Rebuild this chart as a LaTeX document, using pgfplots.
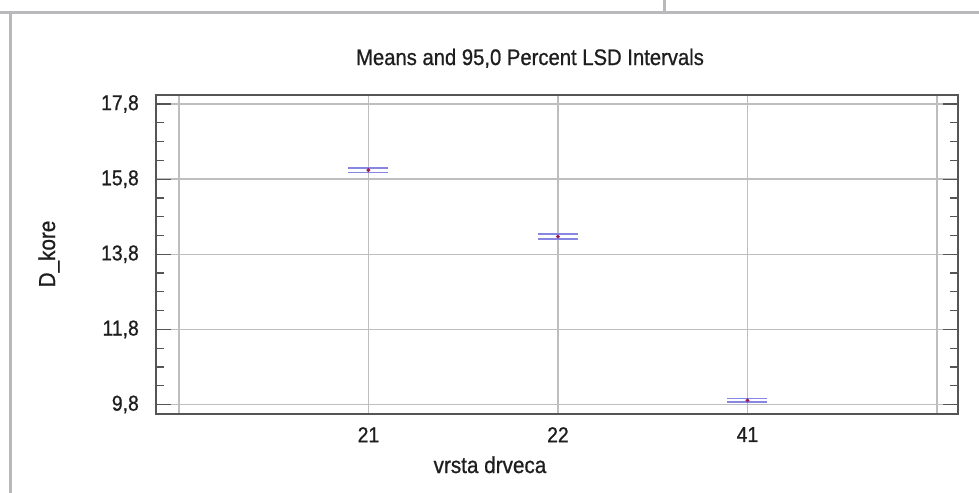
\documentclass[border=0pt]{standalone}
\usepackage{pgfplots}
\pgfplotsset{compat=1.18}
\usepackage{fontspec}
\setmainfont{Liberation Sans}[FakeStretch=0.9, FakeBold=0.8]
\definecolor{framegray}{RGB}{185,185,188}
\definecolor{gridgray}{RGB}{190,190,190}
\definecolor{axisgray}{RGB}{85,85,85}
\definecolor{barblue}{RGB}{135,135,225}
\definecolor{dotred}{RGB}{150,30,90}
\definecolor{txt}{RGB}{30,30,30}
\begin{document}
\begin{tikzpicture}
\path[use as bounding box] (0bp,0bp) rectangle (979bp,-493bp);
\fill[white] (0bp,0bp) rectangle (979bp,-493bp);
% page decoration
\draw[framegray, line width=3bp] (0bp,-12.5bp) -- (979bp,-12.5bp);
\draw[framegray, line width=3bp] (664bp,0bp) -- (664bp,-12.5bp);
\draw[framegray, line width=3bp] (10bp,-11bp) -- (10bp,-493bp);
\begin{axis}[
  at={(156bp,-414bp)}, anchor=south west,
  scale only axis, width=802bp, height=319bp,
  xmin=-0.121, xmax=4.111,
  ymin=9.547, ymax=18.04,
  xtick={0,1,2,3,4},
  xticklabels={,21,22,41,},
  ytick={9.8,11.8,13.8,15.8,17.8},
  yticklabels={{9,8},{11,8},{13,8},{15,8},{17,8}},
  minor y tick num=3,
  tick align=inside,
  major tick length=15bp, minor tick length=8bp,
  xtick style={draw=none},
  ytick style={axisgray, line width=1.2bp},
  grid=major,
  major grid style={gridgray, line width=1.4bp},
  axis line style={axisgray, line width=1.8bp},
  tick label style={font=\fontsize{21.5bp}{24bp}\selectfont, text=txt},
  yticklabel style={inner sep=0pt, anchor=east, xshift=-17bp},
  xticklabel style={inner sep=0pt, anchor=north, yshift=-13bp},
  /pgf/number format/assume math mode=true,
  clip=false,
]
% upper LSD limits
\addplot[only marks, mark=-, mark size=20bp, mark options={barblue, line width=1.6bp}]
coordinates {(1,16.10) (2,14.335) (3,9.955)};
% lower LSD limits
\addplot[only marks, mark=-, mark size=20bp, mark options={barblue, line width=1.6bp}]
coordinates {(1,15.98) (2,14.205) (3,9.865)};
% means
\addplot[only marks, mark=*, mark size=1.8bp, mark options={fill=dotred, draw=dotred}]
coordinates {(1,16.04) (2,14.27) (3,9.91)};
\end{axis}
\node[anchor=base, text=txt, font=\fontsize{22.5bp}{26bp}\selectfont] at (530bp,-65bp) {Means and 95,0 Percent LSD Intervals};
\node[anchor=base, text=txt, font=\fontsize{23bp}{26bp}\selectfont] at (490bp,-473bp) {vrsta drveca};
\node[anchor=base, rotate=90, text=txt, font=\fontsize{23bp}{26bp}\selectfont] at (55bp,-254bp) {D\_kore};
\end{tikzpicture}
\end{document}
